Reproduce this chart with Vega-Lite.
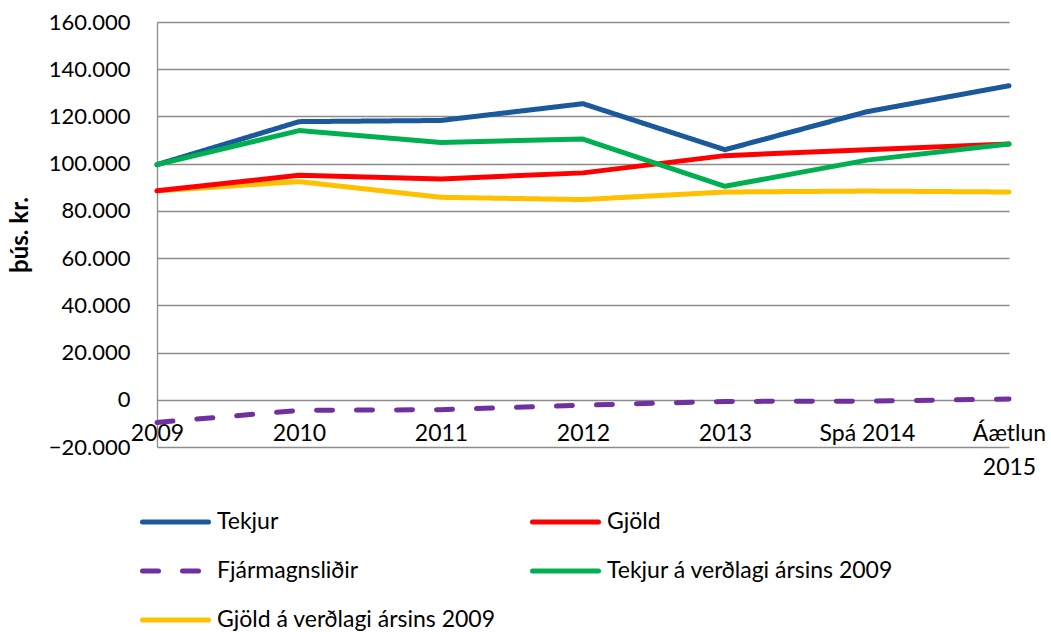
{
  "$schema": "https://vega.github.io/schema/vega-lite/v6.json",
  "width": 852,
  "height": 425,
  "autosize": {"type": "none"},
  "padding": {"left": 157, "top": 22, "right": 42, "bottom": 185},
  "background": "white",
  "config": {
    "view": {"stroke": null},
    "font": "Lato",
    "legend": {"padding": 0}
  },
  "data": {
    "values": [
      {"year": "2009", "series": "Tekjur", "value": 99600},
      {"year": "2010", "series": "Tekjur", "value": 117800},
      {"year": "2011", "series": "Tekjur", "value": 118300},
      {"year": "2012", "series": "Tekjur", "value": 125400},
      {"year": "2013", "series": "Tekjur", "value": 105900},
      {"year": "Spá 2014", "series": "Tekjur", "value": 122000},
      {"year": "Áætlun 2015", "series": "Tekjur", "value": 133000},
      {"year": "2009", "series": "Gjöld", "value": 88500},
      {"year": "2010", "series": "Gjöld", "value": 95100},
      {"year": "2011", "series": "Gjöld", "value": 93500},
      {"year": "2012", "series": "Gjöld", "value": 96100},
      {"year": "2013", "series": "Gjöld", "value": 103400},
      {"year": "Spá 2014", "series": "Gjöld", "value": 105900},
      {"year": "Áætlun 2015", "series": "Gjöld", "value": 108300},
      {"year": "2009", "series": "Fjármagnsliðir", "value": -9600},
      {"year": "2010", "series": "Fjármagnsliðir", "value": -4500},
      {"year": "2011", "series": "Fjármagnsliðir", "value": -4200},
      {"year": "2012", "series": "Fjármagnsliðir", "value": -2300},
      {"year": "2013", "series": "Fjármagnsliðir", "value": -700},
      {"year": "Spá 2014", "series": "Fjármagnsliðir", "value": -600},
      {"year": "Áætlun 2015", "series": "Fjármagnsliðir", "value": 300},
      {"year": "2009", "series": "Tekjur á verðlagi ársins 2009", "value": 99600},
      {"year": "2010", "series": "Tekjur á verðlagi ársins 2009", "value": 114000},
      {"year": "2011", "series": "Tekjur á verðlagi ársins 2009", "value": 109000},
      {"year": "2012", "series": "Tekjur á verðlagi ársins 2009", "value": 110400},
      {"year": "2013", "series": "Tekjur á verðlagi ársins 2009", "value": 90400},
      {"year": "Spá 2014", "series": "Tekjur á verðlagi ársins 2009", "value": 101500},
      {"year": "Áætlun 2015", "series": "Tekjur á verðlagi ársins 2009", "value": 108300},
      {"year": "2009", "series": "Gjöld á verðlagi ársins 2009", "value": 88500},
      {"year": "2010", "series": "Gjöld á verðlagi ársins 2009", "value": 92400},
      {"year": "2011", "series": "Gjöld á verðlagi ársins 2009", "value": 85750},
      {"year": "2012", "series": "Gjöld á verðlagi ársins 2009", "value": 84800},
      {"year": "2013", "series": "Gjöld á verðlagi ársins 2009", "value": 88000},
      {"year": "Spá 2014", "series": "Gjöld á verðlagi ársins 2009", "value": 88400},
      {"year": "Áætlun 2015", "series": "Gjöld á verðlagi ársins 2009", "value": 88000}
    ]
  },
  "encoding": {
    "x": {
      "field": "year",
      "type": "ordinal",
      "sort": ["2009", "2010", "2011", "2012", "2013", "Spá 2014", "Áætlun 2015"],
      "scale": {"type": "point", "padding": 0},
      "axis": {
        "title": null,
        "orient": "bottom",
        "offset": -47.2,
        "domain": false,
        "ticks": false,
        "tickSize": 0,
        "grid": false,
        "labelAngle": 0,
        "labelFont": "Lato",
        "labelFontSize": 23,
        "labelColor": "#000000",
        "labelPadding": 23,
        "labelLineHeight": 34,
        "labelOverlap": false,
        "labelExpr": "datum.value == 'Áætlun 2015' ? ['Áætlun', '2015'] : datum.label"
      }
    },
    "y": {
      "field": "value",
      "type": "quantitative",
      "scale": {"domain": [-20000, 160000], "nice": false, "zero": false},
      "axis": {
        "values": [-20000, 0, 20000, 40000, 60000, 80000, 100000, 120000, 140000, 160000],
        "grid": true,
        "gridColor": "#8c8c8c",
        "gridWidth": 1.3,
        "domain": true,
        "domainColor": "#8c8c8c",
        "domainWidth": 1.3,
        "ticks": false,
        "tickSize": 0,
        "labelFont": "Lato",
        "labelFontSize": 22,
        "labelColor": "#000000",
        "labelPadding": 27,
        "labelExpr": "replace(format(datum.value, ','), ',', '.')",
        "title": "þús. kr.",
        "titleFont": "Lato",
        "titleFontSize": 24,
        "titleFontWeight": "bold",
        "titleColor": "#000000",
        "titleAngle": -90,
        "titleX": -137,
        "titleY": 212.5,
        "titleAlign": "center",
        "titleBaseline": "middle"
      }
    }
  },
  "layer": [
    {
      "transform": [{"filter": {"field": "series", "oneOf": ["Tekjur", "Fjármagnsliðir", "Gjöld á verðlagi ársins 2009"]}}],
      "mark": {"type": "line", "strokeWidth": 5, "strokeCap": "round", "strokeJoin": "round"},
      "encoding": {
        "color": {
          "field": "series",
          "type": "nominal",
          "scale": {
            "domain": ["Tekjur", "Fjármagnsliðir", "Gjöld á verðlagi ársins 2009"],
            "range": ["#1a5a9c", "#7030a0", "#ffc000"]
          },
          "legend": {
            "title": null,
            "orient": "none",
            "legendX": 7,
            "legendY": 488.5,
            "direction": "vertical",
            "symbolType": "M-4.125,0H4.125",
            "symbolSize": 256,
            "symbolStrokeWidth": 5,
            "labelOffset": 30,
            "labelFont": "Lato",
            "labelFontSize": 23,
            "labelColor": "#000000",
            "labelLimit": 500,
            "rowPadding": 25,
            "encode": {
              "symbols": {
                "update": {
                  "strokeCap": {"value": "round"},
                  "strokeDash": {"signal": "datum.value === 'Fjármagnsliðir' ? [16, 24] : [1, 0]"}
                }
              }
            }
          }
        },
        "strokeDash": {
          "field": "series",
          "type": "nominal",
          "scale": {
            "domain": ["Tekjur", "Fjármagnsliðir", "Gjöld á verðlagi ársins 2009"],
            "range": [[1, 0], [16, 24], [1, 0]]
          },
          "legend": null
        }
      }
    },
    {
      "transform": [{"filter": {"field": "series", "oneOf": ["Gjöld", "Tekjur á verðlagi ársins 2009"]}}],
      "mark": {"type": "line", "strokeWidth": 5, "strokeCap": "round", "strokeJoin": "round"},
      "encoding": {
        "color": {
          "field": "series",
          "type": "nominal",
          "scale": {
            "domain": ["Gjöld", "Tekjur á verðlagi ársins 2009"],
            "range": ["#ff0000", "#00b050"]
          },
          "legend": {
            "title": null,
            "orient": "none",
            "legendX": 397,
            "legendY": 488.5,
            "direction": "vertical",
            "symbolType": "M-4.125,0H4.125",
            "symbolSize": 256,
            "symbolStrokeWidth": 5,
            "labelOffset": 30,
            "labelFont": "Lato",
            "labelFontSize": 23,
            "labelColor": "#000000",
            "labelLimit": 500,
            "rowPadding": 25,
            "encode": {
              "symbols": {
                "update": {
                  "strokeCap": {"value": "round"}
                }
              }
            }
          }
        }
      }
    }
  ],
  "resolve": {
    "scale": {"color": "independent", "strokeDash": "independent"},
    "legend": {"color": "independent"}
  }
}
